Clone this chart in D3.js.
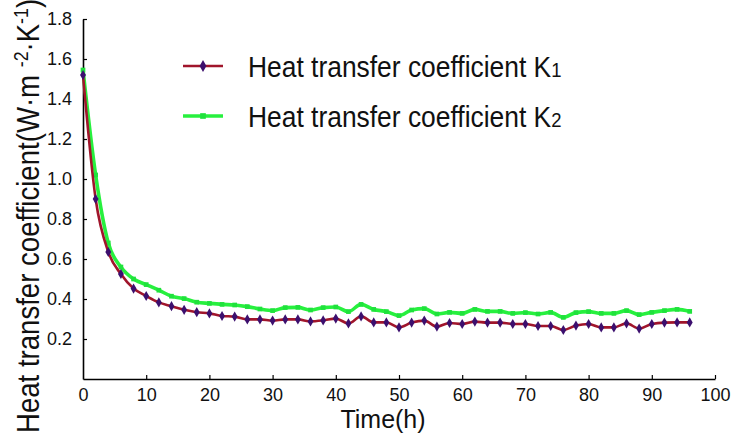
<!DOCTYPE html>
<html>
<head>
<meta charset="utf-8">
<script src="https://cdn.jsdelivr.net/npm/d3@7"></script>
<style>
	body { margin: 0; background: #fff; }
	text { font-family: 'Liberation Sans', Arial, sans-serif; }
</style>
</head>
<body>
<svg></svg>
<script>
// tijd in uren, om de 2 uur een meetpunt
const hours = [0, 2, 4, 6, 8, 10, 12, 14, 16, 18, 20, 22, 24, 26, 28, 30, 32, 34, 36, 38,
	40, 42, 44, 46, 48, 50, 52, 54, 56, 58, 60, 62, 64, 66, 68, 70, 72, 74, 76, 78,
	80, 82, 84, 86, 88, 90, 92, 94, 96]

const k1 = [1.52, 0.90, 0.635, 0.525, 0.452, 0.415, 0.383, 0.364, 0.346, 0.334,
	0.328, 0.315, 0.312, 0.298, 0.298, 0.292, 0.298, 0.298, 0.288, 0.293,
	0.302, 0.278, 0.313, 0.283, 0.283, 0.258, 0.282, 0.292, 0.262, 0.280,
	0.275, 0.287, 0.282, 0.282, 0.275, 0.275, 0.265, 0.265, 0.245, 0.267,
	0.275, 0.258, 0.258, 0.278, 0.252, 0.275, 0.282, 0.283, 0.283]

const k2 = [1.545, 1.02, 0.68, 0.56, 0.50, 0.472, 0.444, 0.414, 0.402, 0.384,
	0.378, 0.373, 0.370, 0.362, 0.350, 0.342, 0.357, 0.358, 0.345, 0.357,
	0.360, 0.337, 0.373, 0.348, 0.337, 0.317, 0.345, 0.352, 0.325, 0.333,
	0.328, 0.348, 0.338, 0.338, 0.328, 0.332, 0.325, 0.333, 0.308, 0.332,
	0.337, 0.328, 0.328, 0.342, 0.322, 0.333, 0.342, 0.348, 0.338]

const xTicks = [0, 10, 20, 30, 40, 50, 60, 70, 80, 90, 100]
const yTicks = [0.2, 0.4, 0.6, 0.8, 1.0, 1.2, 1.4, 1.6, 1.8]

const WIDTH = 732,
	HEIGHT = 435

const svg = d3.select( 'svg' )
	.attr( 'width', WIDTH )
	.attr( 'height', HEIGHT )

const x = d3.scaleLinear().domain( [0, 100] ).range( [83, 715] ),
	y = d3.scaleLinear().domain( [0, 1.8] ).range( [379, 19] )

// assen, ticks wijzen naar binnen
const xAxis = svg.append( 'g' )
	.attr( 'transform', `translate( 0, ${y( 0 )} )` )
	.call( d3.axisBottom( x ).tickValues( xTicks ).tickFormat( d3.format( 'd' ) )
		.tickSizeInner( -4 ).tickSizeOuter( 0 ).tickPadding( 9 ) )

const yAxis = svg.append( 'g' )
	.attr( 'transform', `translate( ${x( 0 )}, 0 )` )
	.call( d3.axisLeft( y ).tickValues( yTicks ).tickFormat( d3.format( '.1f' ) )
		.tickSizeInner( -4 ).tickSizeOuter( 0 ).tickPadding( 11 ) )

svg.selectAll( '.domain' ).attr( 'stroke', '#000' ).attr( 'stroke-width', 1.6 )
svg.selectAll( '.tick line' ).attr( 'stroke', '#000' ).attr( 'stroke-width', 1.2 )
svg.selectAll( '.tick text' )
	.attr( 'fill', '#111' )
	.style( 'font-size', '18px' )
	.style( 'font-family', "'Liberation Sans', Arial, sans-serif" )
xAxis.selectAll( '.tick' ).filter( d => d === 0 ).select( 'line' ).remove()

const series = [
	{ values: k1, line: '#a0152b', marker: '#3c0f6e', width: 2.6, shape: d3.symbolDiamond, size: 30 },
	{ values: k2, line: '#27f03e', marker: '#1fe23c', width: 3.6, shape: d3.symbolSquare, size: 22 }
]

const line = d3.line()
	.x( ( d, i ) => x( hours[i] ) )
	.y( d => y( d ) )
	.curve( d3.curveMonotoneX )

// groen eerst, zodat rood er overheen ligt
series.slice().reverse().forEach( s => {
	svg.append( 'path' )
		.datum( s.values )
		.attr( 'fill', 'none' )
		.attr( 'stroke', s.line )
		.attr( 'stroke-width', s.width )
		.attr( 'stroke-linejoin', 'round' )
		.attr( 'd', line )

	svg.append( 'g' ).selectAll( 'path' )
		.data( s.values )
		.join( 'path' )
		.attr( 'transform', ( d, i ) => `translate( ${x( hours[i] )}, ${y( d )} )` )
		.attr( 'fill', s.marker )
		.attr( 'd', d3.symbol( s.shape, s.size ) )
})

// legenda
const legend = [
	{ s: series[0], label: 'Heat transfer coefficient K', sub: '1', y: 66 },
	{ s: series[1], label: 'Heat transfer coefficient K', sub: '2', y: 116 }
]

legend.forEach( l => {
	svg.append( 'line' )
		.attr( 'x1', 183 ).attr( 'x2', 223 )
		.attr( 'y1', l.y ).attr( 'y2', l.y )
		.attr( 'stroke', l.s.line )
		.attr( 'stroke-width', l.s.width )
	svg.append( 'path' )
		.attr( 'transform', `translate( 203, ${l.y} )` )
		.attr( 'fill', l.s.marker )
		.attr( 'd', d3.symbol( l.s.shape, l.s.size + 10 ) )
	const t = svg.append( 'text' )
		.attr( 'transform', `translate( 248, ${l.y + 11} ) scale( 0.88, 1 )` )
		.attr( 'fill', '#111' )
		.style( 'font-size', '30px' )
		.text( l.label )
	t.append( 'tspan' ).style( 'font-size', '21px' ).text( l.sub )
})

// as titels
svg.append( 'text' )
	.attr( 'x', 383 )
	.attr( 'y', 428 )
	.attr( 'text-anchor', 'middle' )
	.attr( 'fill', '#111' )
	.style( 'font-size', '25px' )
	.text( 'Time(h)' )

const yl = svg.append( 'text' )
	.attr( 'transform', 'translate( 39, 433 ) rotate( -90 ) scale( 0.89, 1 )' )
	.attr( 'fill', '#111' )
	.style( 'font-size', '31px' )
yl.append( 'tspan' ).text( 'Heat transfer coefficient(W·m ' )
yl.append( 'tspan' ).attr( 'dy', -11 ).style( 'font-size', '20px' ).text( '-2' )
yl.append( 'tspan' ).attr( 'dy', 11 ).text( '·K' )
yl.append( 'tspan' ).attr( 'dy', -11 ).style( 'font-size', '20px' ).text( '-1' )
yl.append( 'tspan' ).attr( 'dy', 11 ).text( ')' )
</script>
</body>
</html>
